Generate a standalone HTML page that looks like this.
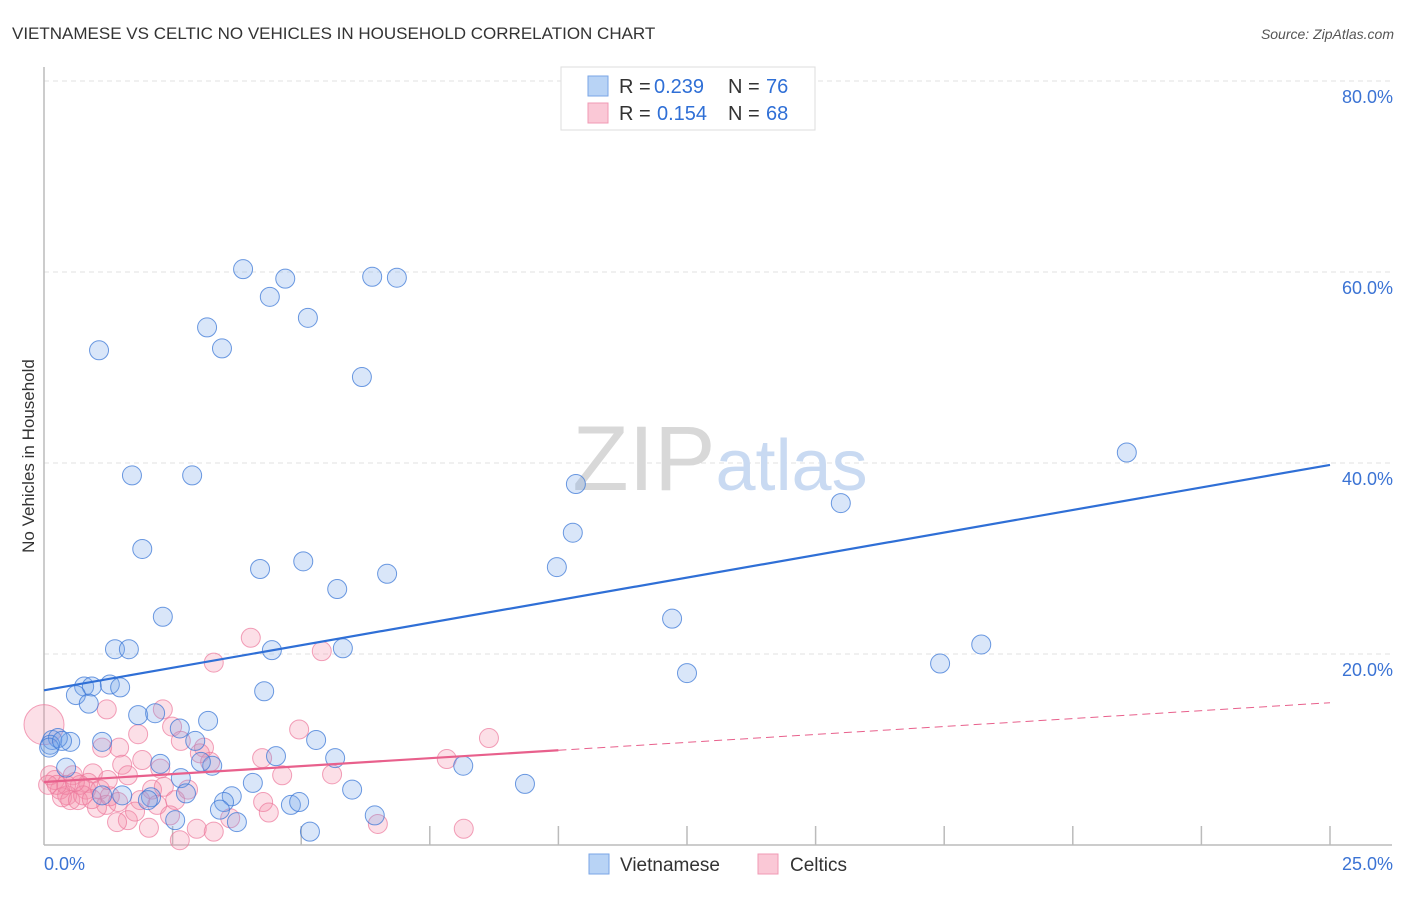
<!DOCTYPE html>
<html><head><meta charset="utf-8"><style>
body{margin:0;background:#fff;font-family:"Liberation Sans",sans-serif;}
svg text{font-family:"Liberation Sans",sans-serif;}
</style></head><body>
<svg id="chart" width="1406" height="892">
<text x="12" y="39" font-size="17" fill="#333">VIETNAMESE VS CELTIC NO VEHICLES IN HOUSEHOLD CORRELATION CHART</text>
<text x="1394" y="39" font-size="14" fill="#555" font-style="italic" text-anchor="end">Source: ZipAtlas.com</text>
<text x="34" y="456" font-size="17" fill="#333" text-anchor="middle" transform="rotate(-90 34 456)">No Vehicles in Household</text>
<g id="grid"></g>
<text x="720" y="490" font-size="92" fill="#ddd" text-anchor="middle" font-family="Liberation Serif"><tspan fill="#d8d8d8">ZIP</tspan><tspan fill="#c9daf2" font-family="Liberation Sans" font-size="72">atlas</tspan></text>
<g id="pts"></g>
<g id="lines"></g>
<g>
<rect x="561" y="67" width="254" height="63" fill="#fff" stroke="#ddd"/>
<rect x="588" y="76" width="20" height="20" fill="#b8d3f5" stroke="#7aa6e6"/>
<rect x="588" y="103" width="20" height="20" fill="#fac8d6" stroke="#f09ab4"/>
<text x="619" y="93" font-size="20" fill="#333">R =</text>
<text x="654" y="93" font-size="20" fill="#2f6fd6">0.239</text>
<text x="728" y="93" font-size="20" fill="#333">N =</text>
<text x="766" y="93" font-size="20" fill="#2f6fd6">76</text>
<text x="619" y="120" font-size="20" fill="#333">R =</text>
<text x="657" y="120" font-size="20" fill="#2f6fd6">0.154</text>
<text x="728" y="120" font-size="20" fill="#333">N =</text>
<text x="766" y="120" font-size="20" fill="#2f6fd6">68</text>
</g>
<g>
<rect x="589" y="854" width="20" height="20" fill="#b8d3f5" stroke="#7aa6e6"/>
<text x="620" y="871" font-size="19" fill="#333">Vietnamese</text>
<rect x="758" y="854" width="20" height="20" fill="#fac8d6" stroke="#f09ab4"/>
<text x="790" y="871" font-size="19" fill="#333">Celtics</text>
</g>
</svg>
<script>
const blueX=[1.07,3.87,4.39,4.69,5.13,6.38,6.86,3.17,3.46,6.18,1.71,2.88,1.91,4.20,5.04,5.70,6.67,2.31,1.38,1.65,4.43,5.81,4.28,0.78,0.93,0.62,0.87,1.28,1.48,1.83,2.16,2.64,3.19,1.13,0.51,0.16,0.27,2.94,5.29,5.66,4.51,2.26,3.27,2.66,3.05,2.08,1.52,1.13,2.76,3.65,3.50,3.75,2.55,4.80,4.96,3.42,5.17,4.06,5.99,6.43,8.15,9.35,9.97,10.28,10.34,12.21,12.50,15.49,17.42,18.22,21.05,0.12,0.43,0.10,0.35,2.02];
const blueY=[51.8,60.3,57.4,59.3,55.2,59.5,59.4,54.2,52.0,49.0,38.7,38.7,31.0,28.9,29.7,26.8,28.4,23.9,20.5,20.5,20.4,20.6,16.1,16.6,16.6,15.7,14.8,16.8,16.5,13.6,13.8,12.2,13.0,10.8,10.8,11.0,11.2,10.9,11.0,9.1,9.3,8.5,8.3,7.0,8.7,5.0,5.2,5.2,5.4,5.1,4.5,2.4,2.6,4.2,4.5,3.7,1.4,6.5,5.8,3.1,8.3,6.4,29.1,32.7,37.8,23.7,18.0,35.8,19.0,21.0,41.1,10.5,8.1,10.2,10.9,4.7];
const pinkX=[4.02,3.30,5.40,2.31,1.22,2.49,1.83,3.11,4.96,5.60,7.83,8.65,2.66,1.46,1.91,1.52,2.26,3.03,3.23,4.24,4.63,4.26,4.37,3.62,2.97,2.04,1.63,1.42,2.64,3.30,8.16,6.49,0.95,0.86,0.82,0.56,0.45,0.31,0.21,0.12,0.35,0.51,0.66,0.70,1.09,1.21,1.03,1.28,1.63,1.87,2.10,2.20,2.33,2.55,2.80,1.13,1.24,0.76,0.43,0.25,0.60,0.08,0.93,1.44,2.45,1.77,0.0];
const pinkY=[21.7,19.1,20.3,14.2,14.2,12.4,11.6,10.2,12.1,7.4,9.0,11.2,10.9,10.2,8.9,8.4,8.0,9.6,8.7,9.1,7.3,4.5,3.4,2.8,1.7,1.8,2.6,2.4,0.5,1.4,1.7,2.2,7.5,6.5,5.8,7.3,5.2,5.8,6.8,7.3,5.0,4.7,4.7,6.3,5.8,4.2,3.9,5.1,7.3,4.7,5.8,4.2,6.1,4.7,5.8,10.2,6.8,5.2,6.3,6.3,6.6,6.3,4.8,4.5,3.1,3.5,12.6];
const yTicks=[20,40,60,80];
const yTickLabels=["20.0%","40.0%","60.0%","80.0%"];
const xTicks=[0,2.5,5,7.5,10,12.5,15,17.5,20,22.5,25];
const blueTrend=[16.2,39.8];
const pinkTrend=[6.6,14.9];
const pinkSolidEnd=10;

const X0=44,X1=1330,Y0=845,Y80=81;
const sx=v=>X0+(X1-X0)*v/25;
const sy=v=>Y0-(Y0-Y80)*v/80;
const NS="http://www.w3.org/2000/svg";
function mk(tag,attrs,parent){const e=document.createElementNS(NS,tag);for(const k in attrs)e.setAttribute(k,attrs[k]);parent.appendChild(e);return e;}
const grid=document.getElementById('grid');
yTicks.forEach((t,i)=>{
  const l=mk('line',{x1:X0,x2:1392,y1:sy(t),y2:sy(t),stroke:'#e2e2e2','stroke-dasharray':'5,4'},grid);
  
  
  const tx=mk('text',{x:1393,y:sy(t)+22,'font-size':18,fill:'#3b73d4','text-anchor':'end'},grid);
  tx.textContent=yTickLabels[i];
  
  
});
const ax=mk('line',{x1:X0,x2:X0,y1:67,y2:Y0,stroke:'#bbb','stroke-width':1.5},grid);


const bx=mk('line',{x1:X0,x2:1392,y1:Y0,y2:Y0,stroke:'#bbb','stroke-width':1.5},grid);


xTicks.slice(1).forEach(t=>{
  const l=mk('line',{x1:sx(t),x2:sx(t),y1:Y0-19,y2:Y0,stroke:'#bbb','stroke-width':1.5},grid);
  
  
});
const xl=mk('text',{x:44,y:870,'font-size':18,fill:'#3b73d4'},grid);xl.textContent=xTicks[0].toFixed(1)+'%';


const xr=mk('text',{x:1393,y:870,'font-size':18,fill:'#3b73d4','text-anchor':'end'},grid);xr.textContent=xTicks[xTicks.length-1].toFixed(1)+'%';



const pts=document.getElementById('pts');
pinkX.forEach((x,i)=>{
  const big=(i===pinkX.length-1);
  const c=mk('circle',{cx:sx(x),cy:sy(pinkY[i]),r:big?20:9.5,fill:'rgba(243,140,170,0.28)',stroke:'rgba(236,120,155,0.7)','stroke-width':1},pts);
  
  
});
blueX.forEach((x,i)=>{
  const c=mk('circle',{cx:sx(x),cy:sy(blueY[i]),r:9.5,fill:'rgba(120,165,235,0.28)',stroke:'rgba(60,120,215,0.75)','stroke-width':1},pts);
  
  
});
const lines=document.getElementById('lines');
const bl=mk('line',{x1:sx(0),y1:sy(blueTrend[0]),x2:sx(25),y2:sy(blueTrend[1]),stroke:'#2f6fd6','stroke-width':2.2},lines);


const pv=x=>pinkTrend[0]+(pinkTrend[1]-pinkTrend[0])*x/25;
const pl=mk('line',{x1:sx(0),y1:sy(pv(0)),x2:sx(pinkSolidEnd),y2:sy(pv(pinkSolidEnd)),stroke:'#e8608c','stroke-width':2.2},lines);


const pd=mk('line',{x1:sx(pinkSolidEnd),y1:sy(pv(pinkSolidEnd)),x2:sx(25),y2:sy(pv(25)),stroke:'#e8608c','stroke-width':1,'stroke-dasharray':'8,5'},lines);


</script>
</body></html>
